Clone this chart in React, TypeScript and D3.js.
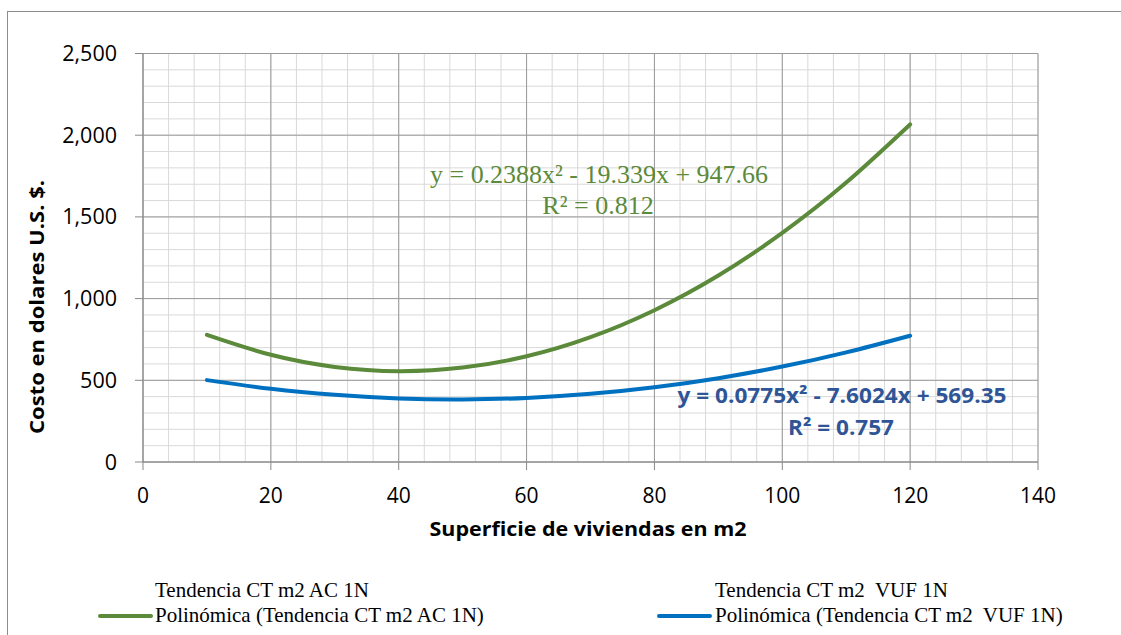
import React from "react";
import * as d3 from "d3";

const xAreas = [10, 20, 30, 40, 50, 60, 70, 80, 90, 100, 110, 120];
const trendAC = [778, 656, 582, 556, 578, 647, 764, 929, 1141, 1402, 1710, 2066];
const trendVUF = [501, 448, 411, 389, 383, 392, 417, 457, 513, 584, 671, 773];
const xTicks = [0, 20, 40, 60, 80, 100, 120, 140];
const yTicks = [0, 500, 1000, 1500, 2000, 2500];
const eqAC = ["y = 0.2388x\u00B2 - 19.339x + 947.66", "R\u00B2 = 0.812"];
const eqVUF = ["y = 0.0775x\u00B2 - 7.6024x + 569.35", "R\u00B2 = 0.757"];
const legendRow1 = ["Tendencia CT m2 AC 1N", "Tendencia CT m2  VUF 1N"];
const legendRow2 = ["Polinómica (Tendencia CT m2 AC 1N)", "Polinómica (Tendencia CT m2  VUF 1N)"];

const GREEN = "#5B8A3A";
const BLUE = "#0070C0";
const BLUE_TXT = "#2F5597";
const SANS = "'Open Sans', 'Noto Sans', sans-serif";
const SERIF = "'Liberation Serif', 'DejaVu Serif', serif";

export default function App() {
  const W = 1121, H = 635;
  const x = d3.scaleLinear().domain([0, 140]).range([143, 1038]);
  const y = d3.scaleLinear().domain([0, 2500]).range([462, 53.5]);
  const minorX = d3.range(0, 141, 4);
  const minorY = d3.range(0, 2501, 100);
  const line = d3
    .line<number>()
    .x((_, i) => x(xAreas[i]))
    .y((d) => y(d))
    .curve(d3.curveNatural);

  return (
    <svg
      width={W}
      height={H}
      style={{ position: "absolute", left: 0, top: 0, background: "#fff" }}
    >
      <rect x={7.5} y={11.5} width={1200} height={700} fill="#fff" stroke="#8c8c8c" strokeWidth={1} />
      {/* minor grid */}
      {minorX.map((v) => (
        <line key={"mx" + v} x1={x(v)} x2={x(v)} y1={y(0)} y2={y(2500)} stroke="#d9d9d9" strokeWidth={1} />
      ))}
      {minorY.map((v) => (
        <line key={"my" + v} x1={x(0)} x2={x(140)} y1={y(v)} y2={y(v)} stroke="#d9d9d9" strokeWidth={1} />
      ))}
      {/* major grid */}
      {xTicks.map((v) => (
        <line key={"Mx" + v} x1={x(v)} x2={x(v)} y1={y(0)} y2={y(2500)} stroke="#9a9a9a" strokeWidth={1} />
      ))}
      {yTicks.map((v) => (
        <line key={"My" + v} x1={x(0)} x2={x(140)} y1={y(v)} y2={y(v)} stroke="#9a9a9a" strokeWidth={1} />
      ))}
      {/* axes */}
      <line x1={x(0)} x2={x(0)} y1={y(0)} y2={y(2500)} stroke="#888" strokeWidth={1} />
      <line x1={x(0)} x2={x(140)} y1={y(0)} y2={y(0)} stroke="#888" strokeWidth={1} />
      {xTicks.map((v) => (
        <g key={"xt" + v}>
          <line x1={x(v)} x2={x(v)} y1={y(0)} y2={y(0) + 8} stroke="#888" />
          <text x={x(v)} y={503} textAnchor="middle" fontFamily={SANS} fontSize={21} fill="#000">
            {v}
          </text>
        </g>
      ))}
      {yTicks.map((v) => (
        <g key={"yt" + v}>
          <line x1={x(0) - 8} x2={x(0)} y1={y(v)} y2={y(v)} stroke="#888" />
          <text x={117} y={y(v) + 7.5} textAnchor="end" fontFamily={SANS} fontSize={21.5} fill="#000">
            {d3.format(",")(v)}
          </text>
        </g>
      ))}
      {/* trend lines */}
      <path d={line(trendAC) || ""} fill="none" stroke={GREEN} strokeWidth={4} strokeLinecap="round" />
      <path d={line(trendVUF) || ""} fill="none" stroke={BLUE} strokeWidth={4} strokeLinecap="round" />
      {/* equations */}
      <text x={599} y={183} textAnchor="middle" fontFamily={SERIF} fontSize={26} fill={GREEN} textLength={338} lengthAdjust="spacingAndGlyphs">
        {eqAC[0]}
      </text>
      <text x={598} y={214} textAnchor="middle" fontFamily={SERIF} fontSize={26} fill={GREEN}>
        {eqAC[1]}
      </text>
      <text x={842} y={403} textAnchor="middle" fontFamily={SANS} fontWeight="bold" fontSize={21.5} fill={BLUE_TXT} textLength={329} lengthAdjust="spacingAndGlyphs">
        {eqVUF[0]}
      </text>
      <text x={841} y={435} textAnchor="middle" fontFamily={SANS} fontWeight="bold" fontSize={21.5} fill={BLUE_TXT} textLength={106} lengthAdjust="spacingAndGlyphs">
        {eqVUF[1]}
      </text>
      {/* axis titles */}
      <text x={588} y={536} textAnchor="middle" fontFamily={SANS} fontWeight="bold" fontSize={20} fill="#000" textLength={317} lengthAdjust="spacingAndGlyphs">
        Superficie de viviendas en m2
      </text>
      <text
        transform={`translate(44, ${307}) rotate(-90)`}
        textAnchor="middle"
        fontFamily={SANS}
        fontWeight="bold"
        fontSize={20}
        fill="#000"
        textLength={254}
        lengthAdjust="spacingAndGlyphs"
      >
        Costo en dolares U.S.  $.
      </text>
      {/* legend */}
      <text x={155} y={597} fontFamily={SERIF} fontSize={21} fill="#000">{legendRow1[0]}</text>
      <line x1={100} x2={151} y1={616} y2={616} stroke={GREEN} strokeWidth={4} strokeLinecap="round" />
      <text x={155} y={622} fontFamily={SERIF} fontSize={21} fill="#000">{legendRow2[0]}</text>
      <text x={715} y={597} fontFamily={SERIF} fontSize={21} fill="#000" style={{ whiteSpace: "pre" }}>{legendRow1[1]}</text>
      <line x1={659} x2={710} y1={616} y2={616} stroke={BLUE} strokeWidth={4} strokeLinecap="round" />
      <text x={715} y={622} fontFamily={SERIF} fontSize={21} fill="#000" style={{ whiteSpace: "pre" }}>{legendRow2[1]}</text>
    </svg>
  );
}
